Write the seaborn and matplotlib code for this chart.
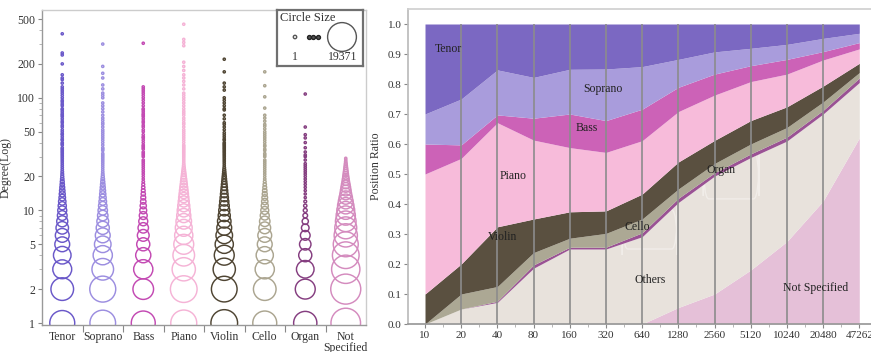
import numpy as np
import pandas as pd
import matplotlib
matplotlib.use("Agg")
import matplotlib.pyplot as plt
import seaborn as sns
from matplotlib.ticker import FixedLocator, NullFormatter
from matplotlib.patches import FancyBboxPatch

sns.set_theme(style="white")
plt.rcParams["font.family"] = ["Liberation Serif", "DejaVu Serif"]

# ---------------- data: left panel (degree distribution) ----------------
categories = ["Tenor", "Soprano", "Bass", "Piano", "Violin", "Cello", "Organ", "Not Specified"]
cat_labels = ["Tenor", "Soprano", "Bass", "Piano", "Violin", "Cello", "Organ", "Not\nSpecified"]
left_colors = ["#6A58C9", "#9C8EE0", "#C34AB3", "#F5B3D6", "#4F4533", "#ABA590", "#853E80", "#D48BBE"]

# node counts for degree 1, 2, 3, ... (consecutive degrees)
tenor_counts = [13360, 10970, 7610, 6570, 4650, 4015, 3260, 2530, 1926, 1632, 1322, 1073, 815,
                668, 532, 407, 293, 229, 151, 96, 62, 40, 15, 8, 5]
soprano_counts = [14130, 14470, 10000, 7860, 5820, 4650, 3600, 2884, 2240, 1797, 1435, 1142, 909,
                  726, 585, 456, 337, 250, 170, 96, 46, 15]
bass_counts = [12290, 9080, 7860, 4850, 3600, 2884, 2240, 1632, 1248, 909, 726, 532, 407, 293,
               209, 132, 79, 30]
piano_counts = [14470, 15275, 11570, 10000, 8460, 7040, 6040, 5120, 4200, 3600, 3043, 2530, 2150,
                1797, 1512, 1248, 1006, 815, 640, 480, 360, 250, 170, 96, 46, 15]
violin_counts = [15275, 14130, 10580, 8460, 7040, 5820, 4650, 3836, 3043, 2530, 2059, 1714, 1396,
                 1142, 940, 755, 612, 480, 360, 271, 189, 132, 79, 30]
cello_counts = [12290, 10970, 7860, 6270, 4650, 4015, 2884, 2240, 1632, 1248, 973, 755, 585, 431,
                315, 209, 132, 62, 15]
organ_counts = [11570, 8460, 6570, 3600, 2730, 1926, 1142, 726, 360, 229, 132, 62]
ns_counts = [18800, 19371, 17190, 15275, 13360, 11570, 10290, 9080, 7860, 6800, 5680, 4650, 3717,
             2884, 2383, 1926, 1512, 1142, 909, 697, 532, 407, 293, 209, 132, 79, 30, 5, 3]

# sparse high-degree nodes (about one node each)
tenor_tail = [26, 27, 28, 29, 30, 31, 32, 33, 34, 35, 36, 38, 39, 40, 42, 43, 45, 47, 48, 50, 52,
              55, 57, 60, 62, 65, 68, 70, 72, 75, 78, 80, 85, 88, 92, 95, 100, 105, 110, 115, 120,
              125, 135, 145, 150, 160, 200, 240, 250, 370]
soprano_tail = [23, 24, 25, 26, 27, 28, 29, 30, 31, 32, 34, 35, 36, 38, 40, 42, 44, 46, 48, 50, 52,
                55, 58, 60, 63, 66, 70, 75, 80, 85, 90, 100, 105, 110, 120, 130, 150, 165, 190, 300]
bass_tail = [19, 20, 21, 22, 23, 24, 25, 26, 27, 28, 30, 31, 32, 33, 35, 36, 37, 38, 40, 42, 44,
             45, 47, 50, 52, 55, 57, 60, 62, 65, 68, 70, 72, 75, 78, 80, 85, 90, 95, 100, 105, 110,
             115, 120, 125, 305]
piano_tail = [27, 28, 29, 30, 31, 32, 33, 34, 35, 36, 37, 38, 40, 42, 44, 46, 48, 50, 52, 55, 58,
              60, 63, 66, 70, 73, 76, 80, 85, 90, 95, 100, 105, 110, 120, 130, 140, 150, 160, 175,
              190, 207, 290, 310, 330, 450]
violin_tail = [25, 26, 27, 28, 29, 30, 31, 32, 33, 34, 35, 36, 37, 38, 39, 40, 42, 43, 45, 47, 49,
               52, 55, 58, 60, 65, 70, 78, 80, 85, 90, 95, 100, 117, 125, 135, 170, 220]
cello_tail = [20, 21, 22, 23, 24, 25, 26, 27, 28, 30, 31, 32, 34, 35, 37, 38, 40, 42, 44, 46, 48,
              50, 53, 56, 58, 62, 66, 70, 81, 102, 128, 170]
organ_tail = [13, 14, 15, 16, 17, 18, 19, 20, 21, 22, 23, 24, 25, 26, 28, 30, 31, 33, 36, 40, 44,
              47, 55, 108]
ns_tail = []

count_lists = [tenor_counts, soprano_counts, bass_counts, piano_counts,
               violin_counts, cello_counts, organ_counts, ns_counts]
tail_lists = [tenor_tail, soprano_tail, bass_tail, piano_tail,
              violin_tail, cello_tail, organ_tail, ns_tail]
legend_max = 19371

# ---------------- data: right panel (stacked position ratio) ----------------
x_labels = ["10", "20", "40", "80", "160", "320", "640", "1280", "2560", "5120", "10240", "20480", "47262"]
ratio_not_specified = [0, 0, 0, 0, 0, 0, 0, 0.055, 0.10, 0.18, 0.275, 0.41, 0.62]
ratio_others = [0, 0.05, 0.072, 0.186, 0.25, 0.25, 0.291, 0.35, 0.393, 0.375, 0.335, 0.29, 0.185]
ratio_organ = [0, 0, 0.004, 0.011, 0.006, 0.006, 0.013, 0.014, 0.011, 0.012, 0.013, 0.012, 0.015]
ratio_cello = [0, 0.05, 0.049, 0.041, 0.030, 0.046, 0.046, 0.031, 0.031, 0.033, 0.032, 0.028, 0.018]
ratio_violin = [0.10, 0.10, 0.199, 0.112, 0.088, 0.075, 0.083, 0.09, 0.077, 0.078, 0.069, 0.053, 0.031]
ratio_piano = [0.40, 0.352, 0.347, 0.263, 0.214, 0.195, 0.178, 0.168, 0.151, 0.13, 0.109, 0.087, 0.048]
ratio_bass = [0.10, 0.045, 0.026, 0.073, 0.112, 0.106, 0.105, 0.081, 0.07, 0.053, 0.049, 0.028, 0.021]
ratio_soprano = [0.10, 0.153, 0.15, 0.136, 0.149, 0.172, 0.142, 0.093, 0.074, 0.058, 0.05, 0.044, 0.031]
ratio_tenor = [0.30, 0.25, 0.153, 0.178, 0.151, 0.15, 0.142, 0.118, 0.093, 0.081, 0.068, 0.048, 0.031]

layer_names = ["Not Specified", "Others", "Organ", "Cello", "Violin", "Piano", "Bass", "Soprano", "Tenor"]
layer_values = [ratio_not_specified, ratio_others, ratio_organ, ratio_cello, ratio_violin,
                ratio_piano, ratio_bass, ratio_soprano, ratio_tenor]
layer_colors = ["#E5C0D8", "#E8E2DC", "#9A5294", "#ACA894", "#5A5040", "#F7BBDA", "#CC62B7",
                "#A99CDC", "#7B68C2"]

# ---------------- figure ----------------
W, H = 871, 352
fig = plt.figure(figsize=(W / 100, H / 100), dpi=100)

def px_axes(x0, y0, x1, y1):
    return fig.add_axes([x0 / W, 1 - y1 / H, (x1 - x0) / W, (y1 - y0) / H])

TXT = "#333333"

# ---- left panel ----
ax1 = px_axes(42, 10, 366, 325)
rows = []
for ci, (cat, cnts, tail) in enumerate(zip(categories, count_lists, tail_lists)):
    for d, c in enumerate(cnts, start=1):
        rows.append((cat, ci, d, c))
    for d in tail:
        rows.append((cat, ci, d, 1))
df = pd.DataFrame(rows, columns=["category", "pos", "degree", "count"])
df = df.sort_values("count", ascending=False)

sns.scatterplot(data=df, x="pos", y="degree", hue="category", hue_order=categories,
                palette=left_colors, size="count", sizes=(2.5, 467), size_norm=(1, legend_max),
                legend=False, ax=ax1, linewidth=1.05)
for pc in ax1.collections:
    fc = pc.get_facecolors()
    pc.set_edgecolors(fc)
    pc.set_facecolors("none")

ax1.set_yscale("log")
ax1.set_ylim(0.96, 602)
ax1.set_xlim(-0.5, 7.5)
ax1.set_xlabel("")
ax1.set_ylabel("Degree(Log)", fontsize=8.5, color=TXT, labelpad=4)
ax1.yaxis.set_major_locator(FixedLocator([1, 2, 5, 10, 20, 50, 100, 200, 500]))
ax1.set_yticklabels(["1", "2", "5", "10", "20", "50", "100", "200", "500"])
ax1.yaxis.set_minor_locator(FixedLocator([3, 4, 6, 7, 8, 9, 30, 40, 60, 70, 80, 90,
                                          300, 400]))
ax1.yaxis.set_minor_formatter(NullFormatter())
ax1.set_xticks(range(len(categories)))
ax1.set_xticklabels(cat_labels)
ax1.xaxis.set_minor_locator(FixedLocator([0.5, 1.5, 2.5, 3.5, 4.5, 5.5, 6.5]))
ax1.tick_params(axis="x", which="major", length=0, pad=4, labelsize=8.5, labelcolor=TXT)
ax1.tick_params(axis="x", which="minor", length=5, width=0.8, color="#888888", bottom=True)
ax1.tick_params(axis="y", which="major", length=3, width=0.8, color="#888888", pad=2,
                labelsize=8.5, labelcolor=TXT, left=True)
ax1.tick_params(axis="y", which="minor", length=2, width=0.6, color="#aaaaaa", left=True)
for s in ["left", "bottom"]:
    ax1.spines[s].set_color("#999999")
    ax1.spines[s].set_linewidth(1.0)
for s in ["top", "right"]:
    ax1.spines[s].set_color("#cccccc")
    ax1.spines[s].set_linewidth(1.0)
for lbl in ax1.get_xticklabels():
    lbl.set_linespacing(0.95)

# legend box (circle size)
axl = px_axes(277, 10, 363, 66)
axl.set_xlim(0, 86)
axl.set_ylim(56, 0)
axl.set_xticks([])
axl.set_yticks([])
for s in axl.spines.values():
    s.set_color("#707070")
    s.set_linewidth(1.6)
axl.text(31, 8, "Circle Size", ha="center", va="center", fontsize=9, color=TXT)
axl.scatter([18], [27], s=6, facecolors="none", edgecolors="#555555", linewidths=1.0)
axl.scatter([31.5, 36, 40.5], [27, 27, 27], s=8, facecolors="#555555", edgecolors="#222222",
            linewidths=1.0)
axl.scatter([65], [27], s=430, facecolors="none", edgecolors="#555555", linewidths=1.0)
axl.text(18, 47, "1", ha="center", va="center", fontsize=8.5, color=TXT)
axl.text(65.5, 47, f"{legend_max}", ha="center", va="center", fontsize=8.5, color=TXT)

# ---- right panel ----
ax2 = px_axes(408, 9, 881, 324)
xs = np.arange(len(x_labels))
base = np.zeros(len(xs))
for i, (vals, col) in enumerate(zip(layer_values, layer_colors)):
    top = base + np.asarray(vals)
    ax2.fill_between(xs, base, top, color=col, linewidth=0, zorder=1 if i < 2 else 2)
    base = top

# faint label boxes (visible only on the light background band)
for (bx, by, bw, bh) in [(5.45, 0.25, 1.52, 0.13), (7.69, 0.417, 1.54, 0.16)]:
    ax2.add_patch(FancyBboxPatch((bx, by), bw, bh, boxstyle="round,pad=0,rounding_size=0.15",
                                 facecolor="none", edgecolor="#f1ede9", linewidth=1.0,
                                 zorder=1.5))

ax2.vlines(xs[1:-1], 0, 1.0, color="#8c8c8c", linewidth=1.2, zorder=3)
ax2.set_xlim(-0.47, 12.6)
ax2.set_ylim(0, 1.05)
ax2.set_xticks(xs)
ax2.set_xticklabels(x_labels)
ax2.xaxis.set_minor_locator(FixedLocator(xs[:-1] + 0.5))
ax2.set_yticks(np.round(np.arange(0, 1.01, 0.1), 1))
ax2.set_yticklabels([f"{v:.1f}" for v in np.arange(0, 1.01, 0.1)])
ax2.tick_params(axis="x", which="major", length=3, width=0.8, color="#888888", pad=2,
                labelsize=8, labelcolor=TXT, bottom=True)
ax2.tick_params(axis="x", which="minor", length=2, width=0.6, color="#aaaaaa", bottom=True)
ax2.tick_params(axis="y", which="major", length=3, width=0.8, color="#888888", pad=1.5,
                labelsize=8, labelcolor=TXT, left=True)
ax2.set_ylabel("Position Ratio", fontsize=8.5, color=TXT, labelpad=4)
ax2.spines["left"].set_color("#bbbbbb")
ax2.spines["bottom"].set_color("#999999")
ax2.spines["top"].set_color("#d0d0d0")
ax2.spines["right"].set_visible(False)

area_labels = [("Tenor", 0.66, 0.917), ("Soprano", 4.92, 0.783), ("Bass", 4.48, 0.653),
               ("Piano", 2.43, 0.493), ("Violin", 2.13, 0.29), ("Cello", 5.86, 0.323),
               ("Organ", 8.18, 0.513), ("Others", 6.22, 0.147), ("Not Specified", 10.78, 0.12)]
for name, lx, ly in area_labels:
    ax2.text(lx, ly, name, ha="center", va="center", fontsize=8.5, color="#222222", zorder=4)

fig.savefig("out.png", dpi=100, facecolor="white")
